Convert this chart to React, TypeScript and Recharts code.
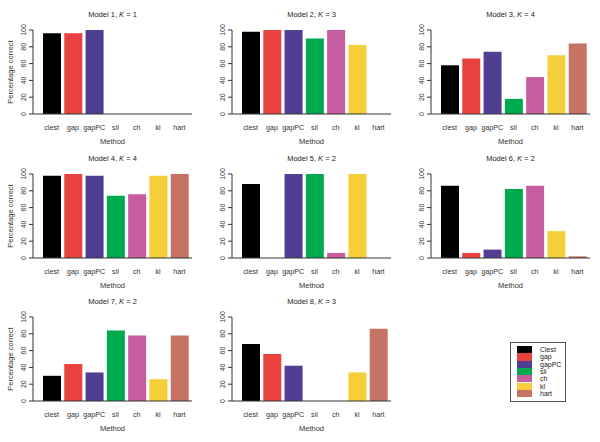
import { BarChart, Bar, XAxis, YAxis, Cell } from 'recharts';

const methods = ['clest', 'gap', 'gapPC', 'sil', 'ch', 'kl', 'hart'];
const legendLabels = ['Clest', 'gap', 'gapPC', 'sil', 'ch', 'kl', 'hart'];
const colors = ['#000000', '#E8413E', '#503E93', '#00AA4E', '#C55DA0', '#F5CF3A', '#C57363'];

const kValues = [1, 3, 4, 4, 2, 2, 2, 3];
const model1 = [96, 96, 100, 0, 0, 0, 0];
const model2 = [98, 100, 100, 90, 100, 82, 0];
const model3 = [58, 66, 74, 18, 44, 70, 84];
const model4 = [98, 100, 98, 74, 76, 98, 100];
const model5 = [88, 0, 100, 100, 6, 100, 0];
const model6 = [86, 6, 10, 82, 86, 32, 2];
const model7 = [30, 44, 34, 84, 78, 26, 78];
const model8 = [68, 56, 42, 0, 0, 34, 86];
const yTicks = [0, 20, 40, 60, 80, 100];

const models = [model1, model2, model3, model4, model5, model6, model7, model8];

const FONT = '"Liberation Sans", Arial, Helvetica, sans-serif';
const PANEL_W = 199;
const PANEL_H = 150;
const rowTops = [0, 144, 287];

const YTick = ({ x, y, payload }: any) => (
  <text
    x={x}
    y={y}
    transform={`rotate(-90, ${x}, ${y})`}
    textAnchor="middle"
    fontSize={7}
    fontFamily={FONT}
    fill="#333"
  >
    {payload.value}
  </text>
);

const XTick = ({ x, y, payload }: any) => (
  <text x={x} y={y + 5} textAnchor="middle" fontSize={7.2} fontFamily={FONT} fill="#333">
    {payload.value}
  </text>
);

const Panel = ({ index }: { index: number }) => {
  const col = index % 3;
  const row = Math.floor(index / 3);
  const data = methods.map((m, i) => ({ method: m, value: models[index][i] }));
  return (
    <div style={{ position: 'absolute', left: col * 199, top: rowTops[row], width: PANEL_W, height: PANEL_H }}>
      <div
        style={{
          position: 'absolute',
          left: 33,
          width: 159,
          top: 10,
          textAlign: 'center',
          fontSize: 7.5,
          lineHeight: '10px',
          fontFamily: FONT,
          color: '#222',
        }}
      >
        Model {index + 1}, <i>K</i> = {kValues[index]}
      </div>
      <BarChart
        width={PANEL_W}
        height={PANEL_H}
        data={data}
        margin={{ top: 30, right: 7, bottom: 0, left: 0 }}
      >
        <XAxis
          dataKey="method"
          interval={0}
          padding={{ left: 8, right: 2 }}
          stroke="#333"
          tickLine={false}
          tickSize={6}
          tickMargin={5}
          height={PANEL_H - 114}
          tick={<XTick />}
          label={({ viewBox }: any) => (
            <text
              x={viewBox.x + viewBox.width / 2}
              y={141}
              textAnchor="middle"
              dominantBaseline="central"
              fontSize={7.5}
              fontFamily={FONT}
              fill="#333"
            >
              Method
            </text>
          )}
        />
        <YAxis
          domain={[0, 100]}
          ticks={yTicks}
          interval={0}
          width={33}
          stroke="#333"
          tickSize={4}
          tickMargin={3}
          tick={<YTick />}
          label={
            col === 0
              ? ({ viewBox }: any) => (
                  <text
                    x={10}
                    y={viewBox.y + viewBox.height / 2}
                    transform={`rotate(-90, 10, ${viewBox.y + viewBox.height / 2})`}
                    textAnchor="middle"
                    dominantBaseline="central"
                    fontSize={7.5}
                    fontFamily={FONT}
                    fill="#333"
                  >
                    Percentage correct
                  </text>
                )
              : undefined
          }
        />
        <Bar dataKey="value" barSize={18} isAnimationActive={false}>
          {data.map((d, i) => (
            <Cell key={d.method} fill={colors[i]} />
          ))}
        </Bar>
      </BarChart>
    </div>
  );
};

const LegendBox = () => (
  <div
    style={{
      position: 'absolute',
      left: 510,
      top: 342,
      width: 56,
      height: 60,
      border: '1px solid #555',
      boxSizing: 'border-box',
      fontFamily: FONT,
    }}
  >
    {legendLabels.map((label, i) => (
      <div key={label} style={{ position: 'absolute', left: 6, top: 3 + i * 7.3, height: 7.3, display: 'flex', alignItems: 'center' }}>
        <div style={{ width: 15, height: 7.3, background: colors[i] }} />
        <span style={{ marginLeft: 8, fontSize: 7, lineHeight: '7px', color: '#222' }}>{label}</span>
      </div>
    ))}
  </div>
);

export default function App() {
  return (
    <div style={{ position: 'absolute', left: 0, top: 0, width: 600, height: 442, background: '#fff', overflow: 'hidden' }}>
      {models.map((_, i) => (
        <Panel key={i} index={i} />
      ))}
      <LegendBox />
    </div>
  );
}
